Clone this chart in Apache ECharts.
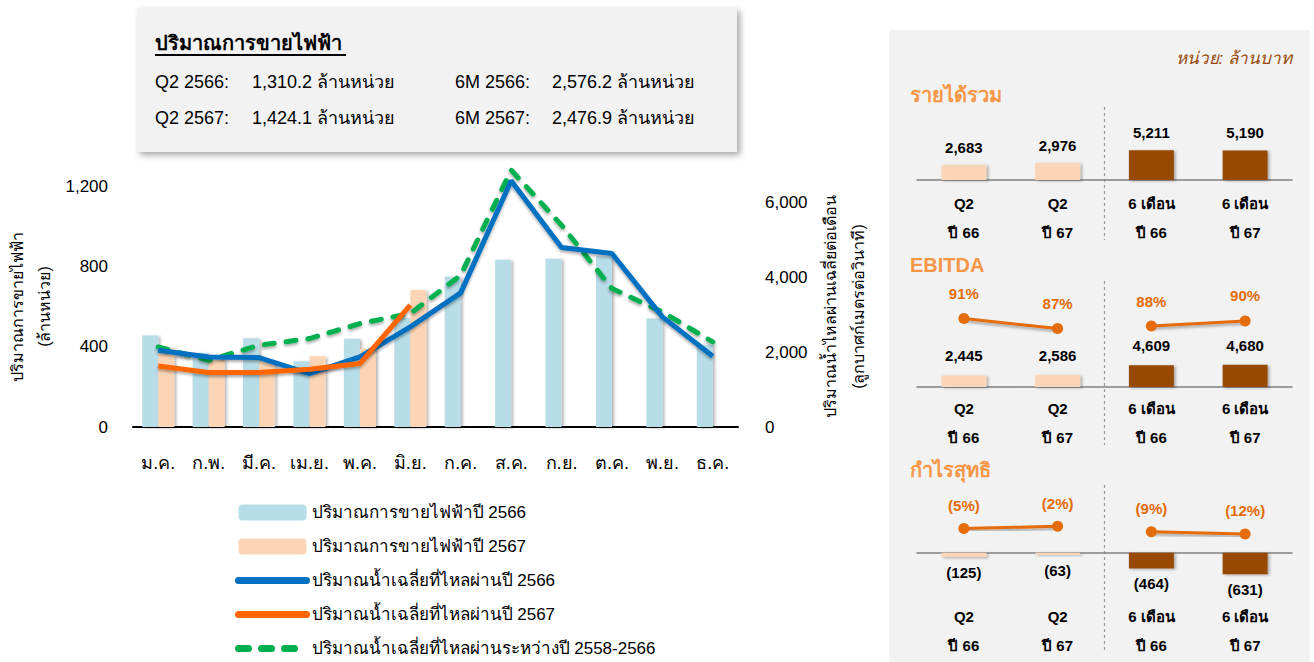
<!DOCTYPE html>
<html>
<head>
<meta charset="utf-8">
<script src="https://cdn.jsdelivr.net/npm/echarts/dist/echarts.min.js"></script>
<style>
html, body { margin: 0; padding: 0; background: #fff; }
#chart { width: 1314px; height: 662px; }
</style>
</head>
<body>
<div id="chart"></div>
<script>
// main chart data
const months = ['ม.ค.', 'ก.พ.', 'มี.ค.', 'เม.ย.', 'พ.ค.', 'มิ.ย.', 'ก.ค.', 'ส.ค.', 'ก.ย.', 'ต.ค.', 'พ.ย.', 'ธ.ค.'];
const sales2566 = [456, 368, 442, 327, 440, 543, 750, 833, 838, 850, 540, 408];
const sales2567 = [392, 335, 326, 352, 390, 682, null, null, null, null, null, null];
const flow2566 = [2054, 1875, 1858, 1430, 1875, 2679, 3590, 6590, 4805, 4645, 2947, 1894];
const flow2567 = [1634, 1457, 1457, 1545, 1698, 3260, null, null, null, null, null, null];
const flowAvg = [2143, 1786, 2188, 2367, 2768, 3036, 4063, 6876, 5402, 3706, 3080, 2277];

// summary box
const summaryLabels = ['Q2 2566:', 'Q2 2567:', '6M 2566:', '6M 2567:'];
const summaryValues = ['1,310.2', '1,424.1', '2,576.2', '2,476.9'];

// right panel (ล้านบาท)
const periods = ['Q2\nปี 66', 'Q2\nปี 67', '6 เดือน\nปี 66', '6 เดือน\nปี 67'];
const revenue = [2683, 2976, 5211, 5190];
const ebitda = [2445, 2586, 4609, 4680];
const ebitdaMargin = [91, 87, 88, 90];
const netProfit = [-125, -63, -464, -631];
const netMargin = [-5, -2, -9, -12];

const FONT = '"Liberation Sans", Arial, "Noto Sans", sans-serif';
const periodColors = ['#FBD5B5', '#FBD5B5', '#974806', '#974806'];
const ORANGE = '#E46C0A';

const chart = echarts.init(document.getElementById('chart'), null, { renderer: 'svg' });
window.addEventListener('resize', function () {
    chart.resize();
});

function money(v) {
    const s = Math.abs(v).toLocaleString('en-US');
    return v < 0 ? '(' + s + ')' : s;
}
function pct(v) {
    return v < 0 ? '(' + (-v) + '%)' : v + '%';
}
function firstHalf(arr) {
    return arr.map((v, i) => (i < 2 ? v : '-'));
}
function secondHalf(arr) {
    return arr.map((v, i) => (i >= 2 ? v : '-'));
}

const lineShadow = { shadowColor: 'rgba(0,0,0,0.35)', shadowBlur: 3, shadowOffsetY: 2 };
const barShadow = { shadowColor: 'rgba(0,0,0,0.3)', shadowBlur: 3, shadowOffsetX: 2, shadowOffsetY: 1 };

// panel grids (grid bottom = where the category labels hang from)
const PANEL_LEFT = 917, PANEL_W = 375;
const panels = [
    { top: 107, height: 73, min: 0, max: 12800, labelMargin: 9, sep: [107, 240] },
    { top: 281, height: 106, min: 0, max: 22400, labelMargin: 7, pmin: 63.9, pmax: 105.8, sep: [281, 445] },
    { top: 485, height: 115, min: -1391, max: 1991, labelMargin: 2, pmin: -96.6, pmax: 50.8, sep: [485, 653] }
];

const grids = [{ left: 133, top: 186, width: 605, height: 241, outerBoundsMode: 'none' }];
panels.forEach(p => grids.push({ left: PANEL_LEFT, width: PANEL_W, top: p.top, height: p.height, outerBoundsMode: 'none' }));

const xAxes = [{
    type: 'category', gridIndex: 0, data: months,
    axisLine: { lineStyle: { color: '#000', width: 2 } },
    axisTick: { show: false },
    axisLabel: { interval: 0, fontSize: 18, color: '#000', margin: 27, fontFamily: FONT }
}];

// yAxis indexes: 0 left, 1 right, 2 rev, 3 ebitda, 4 ebitda %, 5 np, 6 np %
const yAxes = [
    {
        type: 'value', gridIndex: 0, min: 0, max: 1200, interval: 400,
        name: 'ปริมาณการขายไฟฟ้า\n(ล้านหน่วย)', nameLocation: 'middle', nameRotate: 90, nameGap: 75,
        nameTextStyle: { fontSize: 16, color: '#000', lineHeight: 27, fontFamily: FONT },
        axisLabel: { fontSize: 17, color: '#000', margin: 25, fontFamily: FONT },
        axisLine: { show: false }, axisTick: { show: false }, splitLine: { show: false }
    },
    {
        type: 'value', gridIndex: 0, min: 0, max: 6450, interval: 2000, position: 'right',
        name: 'ปริมาณน้ำไหลผ่านเฉลี่ยต่อเดือน\n(ลูกบาศก์เมตรต่อวินาที)', nameLocation: 'middle', nameRotate: 90, nameGap: 78,
        nameTextStyle: { fontSize: 16, color: '#000', lineHeight: 28, fontFamily: FONT },
        axisLabel: { fontSize: 17, color: '#000', margin: 27, showMaxLabel: false, fontFamily: FONT },
        axisLine: { show: false }, axisTick: { show: false }, splitLine: { show: false }
    }
];

const barAxisIndex = [2, 3, 5];
panels.forEach((p, k) => {
    const g = k + 1;
    xAxes.push({
        type: 'category', gridIndex: g, data: periods,
        axisLine: { onZero: true, onZeroAxisIndex: barAxisIndex[k], lineStyle: { color: '#808080', width: 1.5 } },
        axisTick: { show: false },
        axisLabel: { interval: 0, fontSize: 15, fontWeight: 'bold', color: '#000', lineHeight: 29, margin: p.labelMargin, fontFamily: FONT },
        splitLine: { show: false }
    });
    yAxes.push({ type: 'value', gridIndex: g, min: p.min, max: p.max, show: false, splitLine: { show: false } });
    if (p.pmin !== undefined) {
        yAxes.push({ type: 'value', gridIndex: g, min: p.pmin, max: p.pmax, show: false, splitLine: { show: false } });
    }
});

function panelBars(data, xi, yi, pos, dist) {
    return {
        type: 'bar', xAxisIndex: xi, yAxisIndex: yi, barWidth: 45, z: 3, clip: false,
        data: data.map((v, i) => ({ value: v, itemStyle: { color: periodColors[i] } })),
        itemStyle: barShadow,
        label: {
            show: true, position: pos, distance: dist, formatter: p => money(p.value),
            fontSize: 15, fontWeight: 'bold', color: '#000', fontFamily: FONT
        }
    };
}
function marginLine(data, xi, yi, dist) {
    return {
        type: 'line', xAxisIndex: xi, yAxisIndex: yi, data: data, z: 4, clip: false,
        symbol: 'circle', symbolSize: 11, connectNulls: false,
        lineStyle: Object.assign({ color: ORANGE, width: 3 }, lineShadow),
        itemStyle: { color: ORANGE },
        label: {
            show: true, position: 'top', distance: dist, formatter: p => pct(p.value),
            fontSize: 15, fontWeight: 'bold', color: ORANGE, fontFamily: FONT
        }
    };
}

const legendNames = [
    'ปริมาณการขายไฟฟ้าปี 2566',
    'ปริมาณการขายไฟฟ้าปี 2567',
    'ปริมาณน้ำเฉลี่ยที่ไหลผ่านปี 2566',
    'ปริมาณน้ำเฉลี่ยที่ไหลผ่านปี 2567',
    'ปริมาณน้ำเฉลี่ยที่ไหลผ่านระหว่างปี 2558-2566'
];
const hiddenSymbol = { opacity: 0, color: 'rgba(0,0,0,0)', borderWidth: 0 };

const series = [
    {
        name: legendNames[0], type: 'bar', xAxisIndex: 0, yAxisIndex: 0, data: sales2566,
        barWidth: 16, barGap: '0%', itemStyle: Object.assign({ color: '#B7DDE8' }, barShadow)
    },
    {
        name: legendNames[1], type: 'bar', xAxisIndex: 0, yAxisIndex: 0, data: sales2567,
        barWidth: 16, barGap: '0%', itemStyle: Object.assign({ color: '#FBD5B5' }, barShadow)
    },
    {
        name: legendNames[2], type: 'line', xAxisIndex: 0, yAxisIndex: 1, data: flow2566, symbol: 'none', z: 4, clip: false,
        itemStyle: { color: '#0070C0' },
        lineStyle: Object.assign({ color: '#0070C0', width: 5 }, lineShadow)
    },
    {
        name: legendNames[3], type: 'line', xAxisIndex: 0, yAxisIndex: 1, data: flow2567, symbol: 'none', z: 5, clip: false,
        itemStyle: { color: '#FF6600' },
        lineStyle: Object.assign({ color: '#FF6600', width: 5 }, lineShadow)
    },
    {
        name: legendNames[4], type: 'line', xAxisIndex: 0, yAxisIndex: 1, data: flowAvg, symbol: 'none', z: 3, clip: false,
        itemStyle: { color: '#00B050' },
        lineStyle: Object.assign({ color: '#00B050', width: 5, type: [10, 12], cap: 'round' }, lineShadow)
    },
    panelBars(revenue, 1, 2, 'top', 10),
    panelBars(ebitda, 2, 3, 'top', 12),
    marginLine(firstHalf(ebitdaMargin), 2, 4, 12),
    marginLine(secondHalf(ebitdaMargin), 2, 4, 12),
    panelBars(netProfit, 3, 5, 'bottom', 8),
    marginLine(firstHalf(netMargin), 3, 6, 10),
    marginLine(secondHalf(netMargin), 3, 6, 10)
];

const graphic = [
    // right panel background
    { type: 'rect', x: 889, y: 30, shape: { width: 421, height: 632 }, style: { fill: '#F2F2F2' }, z: -10 },
    { type: 'text', x: 1292, y: 58, style: { text: 'หน่วย: ล้านบาท', align: 'right', verticalAlign: 'middle', font: 'italic 17px ' + FONT, fill: '#974806' } },
    { type: 'text', x: 910, y: 95, style: { text: 'รายได้รวม', verticalAlign: 'middle', font: 'bold 20px ' + FONT, fill: '#F79646' } },
    { type: 'text', x: 910, y: 265, style: { text: 'EBITDA', verticalAlign: 'middle', font: 'bold 20px ' + FONT, fill: '#F79646' } },
    { type: 'text', x: 910, y: 470, style: { text: 'กำไรสุทธิ', verticalAlign: 'middle', font: 'bold 20px ' + FONT, fill: '#F79646' } },
    // summary box
    {
        type: 'rect', x: 137, y: 8, shape: { width: 600, height: 144 }, z: -10,
        style: { fill: '#F2F2F2', shadowColor: 'rgba(0,0,0,0.35)', shadowBlur: 6, shadowOffsetX: 3, shadowOffsetY: 3 }
    },
    { type: 'text', x: 155, y: 43, style: { text: 'ปริมาณการขายไฟฟ้า', verticalAlign: 'middle', font: 'bold 20px ' + FONT, fill: '#000' } },
    { type: 'line', shape: { x1: 155, y1: 55, x2: 346, y2: 55 }, style: { stroke: '#000', lineWidth: 2 } }
];
// dashed divider between the Q2 pair and the 6-month pair
panels.forEach(p => {
    const x = PANEL_LEFT + PANEL_W / 2;
    graphic.push({
        type: 'line', shape: { x1: x, y1: p.sep[0], x2: x, y2: p.sep[1] },
        style: { stroke: '#9a9a9a', lineWidth: 1.2, lineDash: [3, 3] }
    });
});
summaryLabels.forEach((lab, i) => {
    const x = i < 2 ? 155 : 455;
    const y = i % 2 === 0 ? 82 : 118;
    graphic.push({ type: 'text', x: x, y: y, style: { text: lab, verticalAlign: 'middle', font: '18px ' + FONT, fill: '#000' } });
    graphic.push({ type: 'text', x: x + 97, y: y, style: { text: summaryValues[i] + ' ล้านหน่วย', verticalAlign: 'middle', font: '18px ' + FONT, fill: '#000' } });
});

chart.setOption({
    animation: false,
    textStyle: { fontFamily: FONT },
    grid: grids,
    xAxis: xAxes,
    yAxis: yAxes,
    legend: {
        data: [
            { name: legendNames[0] },
            { name: legendNames[1] },
            { name: legendNames[2], itemStyle: hiddenSymbol },
            { name: legendNames[3], itemStyle: hiddenSymbol },
            { name: legendNames[4], itemStyle: hiddenSymbol, lineStyle: { type: [10, 13] } }
        ],
        orient: 'vertical', left: 235, top: 504, padding: 0,
        itemWidth: 68, itemHeight: 16, itemGap: 17,
        lineStyle: { width: 7, cap: 'round' },
        textStyle: { fontSize: 17, color: '#000', fontFamily: FONT },
        selectedMode: false
    },
    series: series,
    graphic: graphic
});
</script>
</body>
</html>
